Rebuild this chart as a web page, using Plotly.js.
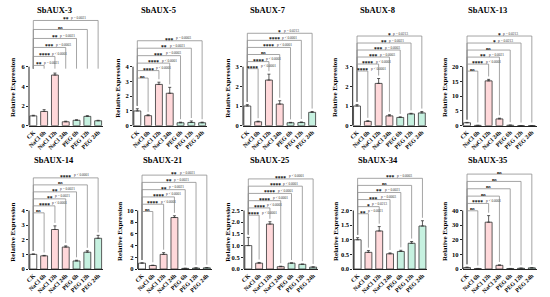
<!DOCTYPE html>
<html>
<head>
<meta charset="utf-8">
<script src="https://cdn.plot.ly/plotly-3.0.1.min.js"></script>
<style>
body { margin: 0; background: #fff; }
#graph { width: 550px; height: 297px; }
</style>
</head>
<body>
<div id="graph"></div>
<script>
var GROUPS = ["CK", "NaCl 6h", "NaCl 12h", "NaCl 24h", "PEG 6h", "PEG 12h", "PEG 24h"];
var GENES = ["SbAUX-3", "SbAUX-5", "SbAUX-7", "SbAUX-8", "SbAUX-13",
	"SbAUX-14", "SbAUX-21", "SbAUX-25", "SbAUX-34", "SbAUX-35"];

// relative expression, error (SD) and significance vs CK, one set per gene
var AUX3_MEAN = [1.0, 1.45, 5.15, 0.4, 0.55, 0.95, 0.5];
var AUX3_ERR = [0.06, 0.18, 0.2, 0.06, 0.05, 0.07, 0.05];
var AUX3_SIG = ["**", "****", "***", "**", "ns", "**"];

var AUX5_MEAN = [1.0, 0.68, 2.8, 2.2, 0.2, 0.22, 0.2];
var AUX5_ERR = [0.15, 0.06, 0.15, 0.4, 0.04, 0.1, 0.04];
var AUX5_SIG = ["ns", "****", "****", "***", "**", "***"];

var AUX7_MEAN = [1.0, 0.2, 2.32, 1.1, 0.15, 0.16, 0.68];
var AUX7_ERR = [0.07, 0.03, 0.3, 0.17, 0.02, 0.03, 0.04];
var AUX7_SIG = ["****", "****", "ns", "****", "****", "*"];

var AUX8_MEAN = [1.0, 0.22, 2.15, 0.5, 0.42, 0.6, 0.65];
var AUX8_ERR = [0.07, 0.03, 0.25, 0.06, 0.03, 0.03, 0.07];
var AUX8_SIG = ["****", "****", "***", "***", "**", "*"];

var AUX13_MEAN = [1.0, 0.1, 15.2, 2.3, 0.15, 0.05, 0.05];
var AUX13_ERR = [0.12, 0.03, 0.5, 0.25, 0.05, 0.02, 0.02];
var AUX13_SIG = ["ns", "****", "**", "ns", "*", "*"];

var AUX14_MEAN = [1.0, 0.9, 2.7, 1.5, 0.55, 1.15, 2.1];
var AUX14_ERR = [0.03, 0.03, 0.25, 0.08, 0.05, 0.1, 0.2];
var AUX14_SIG = ["ns", "****", "**", "**", "ns", "****"];

var AUX21_MEAN = [1.0, 0.6, 2.5, 8.8, 0.1, 0.15, 0.2];
var AUX21_ERR = [0.05, 0.05, 0.3, 0.3, 0.03, 0.05, 0.05];
var AUX21_SIG = ["ns", "****", "****", "**", "**", "**"];

var AUX25_MEAN = [1.0, 0.25, 1.92, 0.1, 0.25, 0.2, 0.08];
var AUX25_ERR = [0.35, 0.03, 0.1, 0.02, 0.01, 0.01, 0.01];
var AUX25_SIG = ["****", "****", "****", "****", "****", "****"];

var AUX34_MEAN = [1.0, 0.57, 1.3, 0.52, 0.6, 0.88, 1.47];
var AUX34_ERR = [0.07, 0.06, 0.15, 0.03, 0.04, 0.06, 0.18];
var AUX34_SIG = ["**", "*", "***", "**", "ns", "***"];

var AUX35_MEAN = [1.0, 0.3, 32, 2.5, 0.3, 0.5, 0.8];
var AUX35_ERR = [0.3, 0.1, 4.5, 0.3, 0.1, 0.1, 0.1];
var AUX35_SIG = ["ns", "****", "ns", "ns", "ns", "ns"];

var TICK_MAX = [6, 4, 3, 3, 20, 4, 10, 2.5, 2, 40];
var TICK_STEP = [2, 1, 1, 1, 5, 1, 2, 0.5, 0.5, 10];

var MEANS = [AUX3_MEAN, AUX5_MEAN, AUX7_MEAN, AUX8_MEAN, AUX13_MEAN,
	AUX14_MEAN, AUX21_MEAN, AUX25_MEAN, AUX34_MEAN, AUX35_MEAN];
var ERRS = [AUX3_ERR, AUX5_ERR, AUX7_ERR, AUX8_ERR, AUX13_ERR,
	AUX14_ERR, AUX21_ERR, AUX25_ERR, AUX34_ERR, AUX35_ERR];
var SIGS = [AUX3_SIG, AUX5_SIG, AUX7_SIG, AUX8_SIG, AUX13_SIG,
	AUX14_SIG, AUX21_SIG, AUX25_SIG, AUX34_SIG, AUX35_SIG];

// placement of each panel (pixels) and of its comparison brackets (data units)
var AXIS_PX = [29, 133, 243, 352.7, 462.7, 29, 137.7, 244, 353.3, 462.7];
var YTITLE_PX = [13, 117.7, 227.7, 335, 445, 12.7, 120, 227.7, 336, 445];
var BRACKET_LOW = [6.13, 3.23, 2.9, 2.78, 18.5, 3.84, 9.83, 2.3, 1.89, 39.8];
var BRACKET_HIGH = [10.7, 5.76, 4.7, 4.56, 30.4, 6.23, 16.05, 3.85, 3.1, 64.9];
var LEG_FLOOR = [5.8, 0, 0, 0, 0, 0, 0, 0, 0, 0];

var W = 550, H = 297;
var FONT = "Liberation Serif, Times New Roman, serif";
var INK = "#222222";

function fillFor(g)
{
	if (g === "CK")
		return "#ffffff";
	if (g.indexOf("NaCl") === 0)
		return "#ffd8da";
	return "#c6f1e0";
}

function pText(sig)
{
	if (sig === "****")
		return "p < 0.0001";
	else if (sig === "***")
		return "p = 0.0003";
	else if (sig === "**")
		return "p = 0.0021";
	else if (sig === "*")
		return "p = 0.0213";
	return "";
}

var data = [], shapes = [], annotations = [];
var layout =
{
	width: W,
	height: H,
	margin: {l: 0, r: 0, t: 0, b: 0},
	paper_bgcolor: "#fff",
	plot_bgcolor: "rgba(0,0,0,0)",
	showlegend: false,
	font: {family: FONT, color: "#000", size: 6}
};

for (var i = 0; i < GENES.length; i++)
{
	var sfx = i === 0 ? "" : String(i + 1);
	var xa = "x" + sfx, ya = "y" + sfx;
	var row = i < 5 ? 0 : 1;
	var y0px = row ? 269 : 125.7;
	var tickPx = row ? 210.5 : 66.7;
	var topPx = row ? 163 : 14;
	var ax = AXIS_PX[i];
	var tmax = TICK_MAX[i];
	var mean = MEANS[i], err = ERRS[i], sig = SIGS[i];

	var tv = [];
	for (var t = 0; t <= tmax + 1e-9; t += TICK_STEP[i])
		tv.push(Math.round(t * 100) / 100);

	layout["xaxis" + sfx] =
	{
		domain: [ax / W, (ax + 74) / W],
		range: [-0.4, 6.45],
		anchor: ya,
		tickvals: [0, 1, 2, 3, 4, 5, 6],
		ticktext: GROUPS,
		tickangle: -45,
		ticks: "",
		showline: true,
		linecolor: INK,
		linewidth: 1,
		showgrid: false,
		zeroline: false,
		tickfont: {family: FONT, size: 6, weight: "bold", color: "#000"},
		fixedrange: true
	};

	layout["yaxis" + sfx] =
	{
		domain: [1 - y0px / H, 1 - topPx / H],
		range: [0, tmax * (y0px - topPx) / (y0px - tickPx)],
		anchor: xa,
		tickvals: tv,
		tickformat: TICK_STEP[i] < 1 ? ".1f" : "d",
		ticks: "outside",
		ticklen: 2,
		tickwidth: 1,
		tickcolor: INK,
		showline: false,
		showgrid: false,
		zeroline: false,
		tickfont: {family: FONT, size: 6.5, weight: "bold", color: "#000"},
		fixedrange: true
	};

	shapes.push({
		type: "line", xref: xa + " domain", yref: ya,
		x0: 0, x1: 0, y0: 0, y1: tmax,
		line: {color: INK, width: 1}
	});

	data.push({
		type: "bar",
		x: [0, 1, 2, 3, 4, 5, 6],
		y: mean,
		xaxis: xa,
		yaxis: ya,
		width: 0.64,
		marker: {color: GROUPS.map(fillFor), line: {color: "#333", width: 0.8}},
		error_y:
		{
			type: "data", symmetric: false, array: err,
			arrayminus: err.map(function() { return 0; }),
			color: "#333", thickness: 0.8, width: 1.5
		},
		hoverinfo: "skip"
	});

	// comparison brackets, CK against each treatment
	var gap = 0.05 * tmax;
	var legL = Math.max(mean[0] + err[0] + gap, LEG_FLOOR[i]);
	for (var k = 0; k < sig.length; k++)
	{
		var j = k + 1;
		var level = BRACKET_LOW[i] + (BRACKET_HIGH[i] - BRACKET_LOW[i]) * k / (sig.length - 1);
		var legR = Math.min(Math.max(mean[j] + err[j] + gap, LEG_FLOOR[i]), level);
		shapes.push({
			type: "path", xref: xa, yref: ya,
			path: "M 0," + legL + " V " + level + " H " + j + " V " + legR,
			line: {color: "#8e8e8e", width: 0.8}
		});

		var mid = j / 2;
		var isNs = sig[k] === "ns";
		annotations.push({
			xref: xa, yref: ya, x: mid, y: level,
			text: "<b>" + sig[k] + "</b>",
			showarrow: false, xanchor: "center", yanchor: "bottom",
			yshift: isNs ? -1.5 : -3,
			borderpad: 0,
			font: {family: FONT, size: isNs ? 5 : 5.5, color: "#000"}
		});
		if (!isNs)
		{
			annotations.push({
				xref: xa, yref: ya, x: mid, y: level,
				text: pText(sig[k]),
				showarrow: false, xanchor: "left", yanchor: "bottom",
				xshift: sig[k].length * 1.4 + 1.5, yshift: -0.5,
				borderpad: 0,
				font: {family: FONT, size: 3.5, color: "#333"}
			});
		}
	}

	// panel title and y-axis title
	annotations.push({
		xref: "paper", yref: "paper",
		x: (ax + 25) / W, y: 1 - (row ? 160 : 10) / H,
		text: "<b>" + GENES[i] + "</b>",
		showarrow: false, xanchor: "center", yanchor: "middle",
		font: {family: FONT, size: 8.5, color: "#000"}
	});
	annotations.push({
		xref: "paper", yref: "paper",
		x: YTITLE_PX[i] / W, y: 1 - (row ? 232 : 88) / H,
		text: "<b>Relative Expression</b>",
		textangle: -90,
		showarrow: false, xanchor: "center", yanchor: "middle",
		font: {family: FONT, size: 7, color: "#000"}
	});
}

layout.shapes = shapes;
layout.annotations = annotations;

Plotly.newPlot("graph", data, layout, {staticPlot: true, displayModeBar: false});
</script>
</body>
</html>
